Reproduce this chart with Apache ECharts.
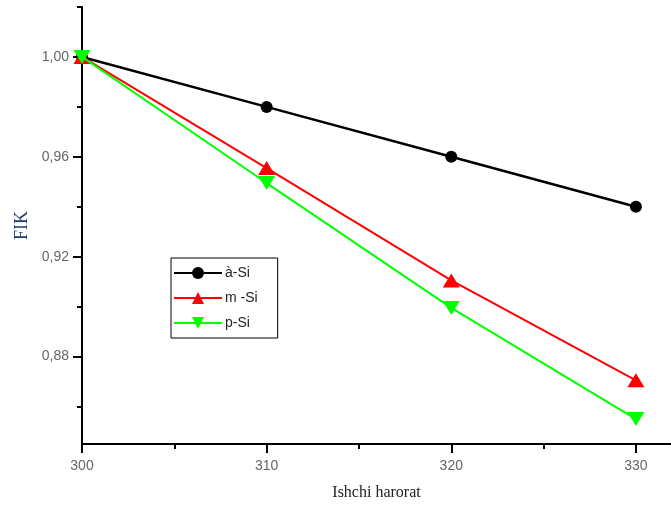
<!DOCTYPE html>
<html><head><meta charset="utf-8">
<script src="https://cdn.jsdelivr.net/npm/echarts@6/dist/echarts.min.js"></script>
<style>html,body{margin:0;padding:0;background:#fff}#c{width:671px;height:506px}</style>
</head><body><div id="c"></div>
<script>
var xValues = [300, 310, 320, 330];
var seriesNames = ['à-Si', 'm -Si', 'p-Si'];
var aSi = [1.00, 0.98, 0.96, 0.94];
var mSi = [1.00, 0.9555, 0.9105, 0.8705];
var pSi = [1.00, 0.9495, 0.8995, 0.855];
var xMajor = [300, 310, 320, 330];
var xMinor = [305, 315, 325];
var yMajor = [0.88, 0.92, 0.96, 1.00];
var yMinor = [0.86, 0.90, 0.94, 0.98, 1.02];
var xMin = 300, xMax = 331.9, yMin = 0.845, yMax = 1.02;

function pairs(v){ return xValues.map(function(x,i){ return [x, v[i]]; }); }
var chart = echarts.init(document.getElementById('c'));
var labelFont = {color:'#666', fontSize:14, fontFamily:'Liberation Sans, Arial, sans-serif'};
chart.setOption({
  animation:false,
  grid:{left:82, right:0, top:7, bottom:62, containLabel:false},
  xAxis:[{
    type:'value', min:xMin, max:xMax, position:'bottom',
    name:'Ishchi harorat', nameLocation:'middle', nameGap:41,
    nameTextStyle:{color:'#222', fontSize:16, fontFamily:'Liberation Serif, Times New Roman, serif'},
    axisLine:{show:true, lineStyle:{color:'#000', width:2}},
    axisTick:{show:true, customValues:xMajor, length:9, inside:false, lineStyle:{color:'#000', width:2}},
    axisLabel:Object.assign({customValues:xMajor, margin:15, formatter:function(v){return String(v);}}, labelFont),
    splitLine:{show:false}
  },{
    type:'value', min:xMin, max:xMax, position:'bottom', gridIndex:0,
    axisLine:{show:false},
    axisTick:{show:true, customValues:xMinor, length:5, lineStyle:{color:'#000', width:2}},
    axisLabel:{show:false}, splitLine:{show:false}
  }],
  yAxis:[{
    type:'value', min:yMin, max:yMax, position:'left',
    name:'FIK', nameLocation:'middle', nameGap:49, nameRotate:90,
    nameTextStyle:{color:'#1f3a66', fontSize:18, fontFamily:'Liberation Serif, Times New Roman, serif'},
    axisLine:{show:true, lineStyle:{color:'#000', width:2}},
    axisTick:{show:true, customValues:yMajor, length:9, lineStyle:{color:'#000', width:2}},
    axisLabel:Object.assign({customValues:yMajor, margin:13, formatter:function(v){return v.toFixed(2).replace('.', ',');}}, labelFont),
    splitLine:{show:false}
  },{
    type:'value', min:yMin, max:yMax, position:'left',
    axisLine:{show:false},
    axisTick:{show:true, customValues:yMinor, length:5, lineStyle:{color:'#000', width:2}},
    axisLabel:{show:false}, splitLine:{show:false}
  }],
  legend:{
    orient:'vertical', left:171, top:258, padding:[8,20,8,2],
    itemWidth:48, itemHeight:15, itemGap:11,
    borderColor:'#000', borderWidth:1, backgroundColor:'#fff',
    textStyle:{color:'#222', fontSize:14, fontFamily:'Liberation Sans, Arial, sans-serif', padding:[0,0,0,-2]},
    data:seriesNames
  },
  series:[
    {name:seriesNames[0], type:'line', xAxisIndex:0, yAxisIndex:0, data:pairs(aSi),
     symbol:'circle', symbolSize:12, lineStyle:{color:'#000', width:2.5}, itemStyle:{color:'#000'}, z:2},
    {name:seriesNames[1], type:'line', xAxisIndex:0, yAxisIndex:0, data:pairs(mSi),
     symbol:'triangle', symbolSize:[17,14], lineStyle:{color:'#ff0000', width:2}, itemStyle:{color:'#ff0000'}, z:3},
    {name:seriesNames[2], type:'line', xAxisIndex:0, yAxisIndex:0, data:pairs(pSi),
     symbol:'triangle', symbolRotate:180, symbolSize:[17,14], lineStyle:{color:'#00ff00', width:2}, itemStyle:{color:'#00ff00'}, z:4}
  ]
});
</script></body></html>
